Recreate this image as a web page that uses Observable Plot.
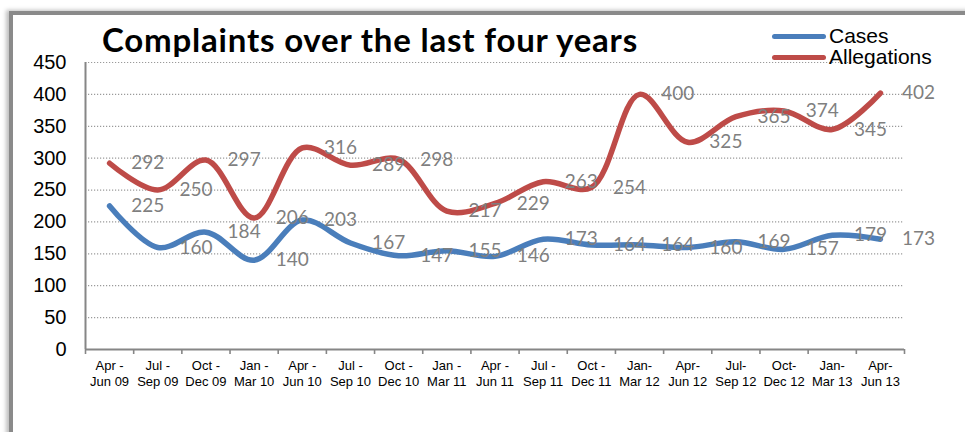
<!DOCTYPE html>
<html>
<head>
<meta charset="utf-8">
<script src="https://cdn.jsdelivr.net/npm/d3@7"></script>
<script src="https://cdn.jsdelivr.net/npm/@observablehq/plot@0.6"></script>
<style>
  html, body { margin: 0; padding: 0; background: #fff; }
  #wrap { position: relative; width: 965px; height: 432px; overflow: hidden; background: #fff; }
  #frame { position: absolute; left: 9px; top: 11px; width: 1100px; height: 600px;
           border-top: 4px solid #8a8a8a; border-left: 4px solid #8a8a8a;
           box-shadow: -3px -1px 4px rgba(0,0,0,0.25); }
  #title { position: absolute; left: 102px; top: 19px; font: bold 33px Lato, sans-serif; letter-spacing: 0.8px; color: #000; white-space: nowrap; }
  .leg { position: absolute; left: 772px; font: 21px "Liberation Sans", Arial, sans-serif; color: #000; white-space: nowrap; }
  .leg i { display: inline-block; width: 54px; height: 5px; border-radius: 3px; vertical-align: middle; margin-right: 3px; position: relative; top: -1px; }
  #chart { position: absolute; left: 0; top: 0; }
</style>
</head>
<body>
<div id="wrap">
  <div id="frame"></div>
  <div id="chart"></div>
  <div id="title">Complaints over the last four years</div>
  <div class="leg" id="leg1" style="top:24px"></div>
  <div class="leg" id="leg2" style="top:45px"></div>
</div>
<script>
const categories = [
  "Apr -\nJun 09", "Jul -\nSep 09", "Oct -\nDec 09", "Jan -\nMar 10",
  "Apr -\nJun 10", "Jul -\nSep 10", "Oct -\nDec 10", "Jan -\nMar 11",
  "Apr -\nJun 11", "Jul -\nSep 11", "Oct -\nDec 11", "Jan-\nMar 12",
  "Apr-\nJun 12", "Jul-\nSep 12", "Oct-\nDec 12", "Jan-\nMar 13", "Apr-\nJun 13"
];
const cases = [225, 160, 184, 140, 203, 167, 147, 155, 146, 173, 164, 164, 160, 169, 157, 179, 173];
const allegations = [292, 250, 297, 206, 316, 289, 298, 217, 229, 263, 254, 400, 325, 365, 374, 345, 402];
const seriesNames = ["Cases", "Allegations"];
const seriesColors = ["#4a7ebb", "#be4b48"];
const yTicks = [0, 50, 100, 150, 200, 250, 300, 350, 400, 450];

const rows = [
  ...cases.map((v, i) => ({series: "Cases", i, value: v})),
  ...allegations.map((v, i) => ({series: "Allegations", i, value: v}))
];
const idx = categories.map((c, i) => i);
const bounds = categories.map((c, i) => i - 0.5).concat([categories.length - 0.5]);

const chart = Plot.plot({
  width: 965,
  height: 432,
  marginLeft: 85,
  marginRight: 61,
  marginTop: 62,
  marginBottom: 83,
  style: {fontFamily: "'Liberation Sans', Arial, sans-serif", background: "transparent", overflow: "visible"},
  x: {type: "linear", domain: [-0.5, categories.length - 0.5], axis: null, label: null},
  y: {domain: [0, 450], axis: null, label: null},
  color: {domain: seriesNames, range: seriesColors},
  marks: [
    Plot.gridY(yTicks.filter(t => t > 0), {stroke: "#9a9a9a", strokeOpacity: 1, strokeWidth: 1.2, strokeDasharray: "1.2,1.8"}),
    Plot.axisY({ticks: yTicks, tickSize: 0, tickPadding: 19, fontSize: 20, fill: "#000", label: null, tickFormat: d3.format("d")}),
    Plot.axisX({ticks: bounds, tickFormat: () => "", tickSize: 5, stroke: "#868686", strokeWidth: 1.6, label: null}),
    Plot.text(idx, {x: d => d, text: d => categories[d], frameAnchor: "bottom", lineAnchor: "top", dy: 9, fontSize: 13, lineHeight: 1.22, fill: "#000"}),
    Plot.ruleX([-0.5], {stroke: "#868686", strokeWidth: 2}),
    Plot.ruleY([0], {stroke: "#868686", strokeWidth: 2}),
    Plot.line(rows, {x: "i", y: "value", z: "series", stroke: "series", curve: "catmull-rom", strokeWidth: 5.5, strokeLinecap: "round", strokeLinejoin: "round"}),
    Plot.text(rows, {x: d => d.i + 1, y: "value", text: d => String(d.value), dx: -10, fontSize: 19, fontFamily: "Lato, sans-serif", fill: "#7f7f7f"})
  ]
});
document.getElementById("chart").appendChild(chart);

const legs = [document.getElementById("leg1"), document.getElementById("leg2")];
seriesNames.forEach((name, k) => {
  const sw = document.createElement("i");
  sw.style.background = seriesColors[k];
  legs[k].appendChild(sw);
  legs[k].appendChild(document.createTextNode(name));
});
</script>
</body>
</html>
